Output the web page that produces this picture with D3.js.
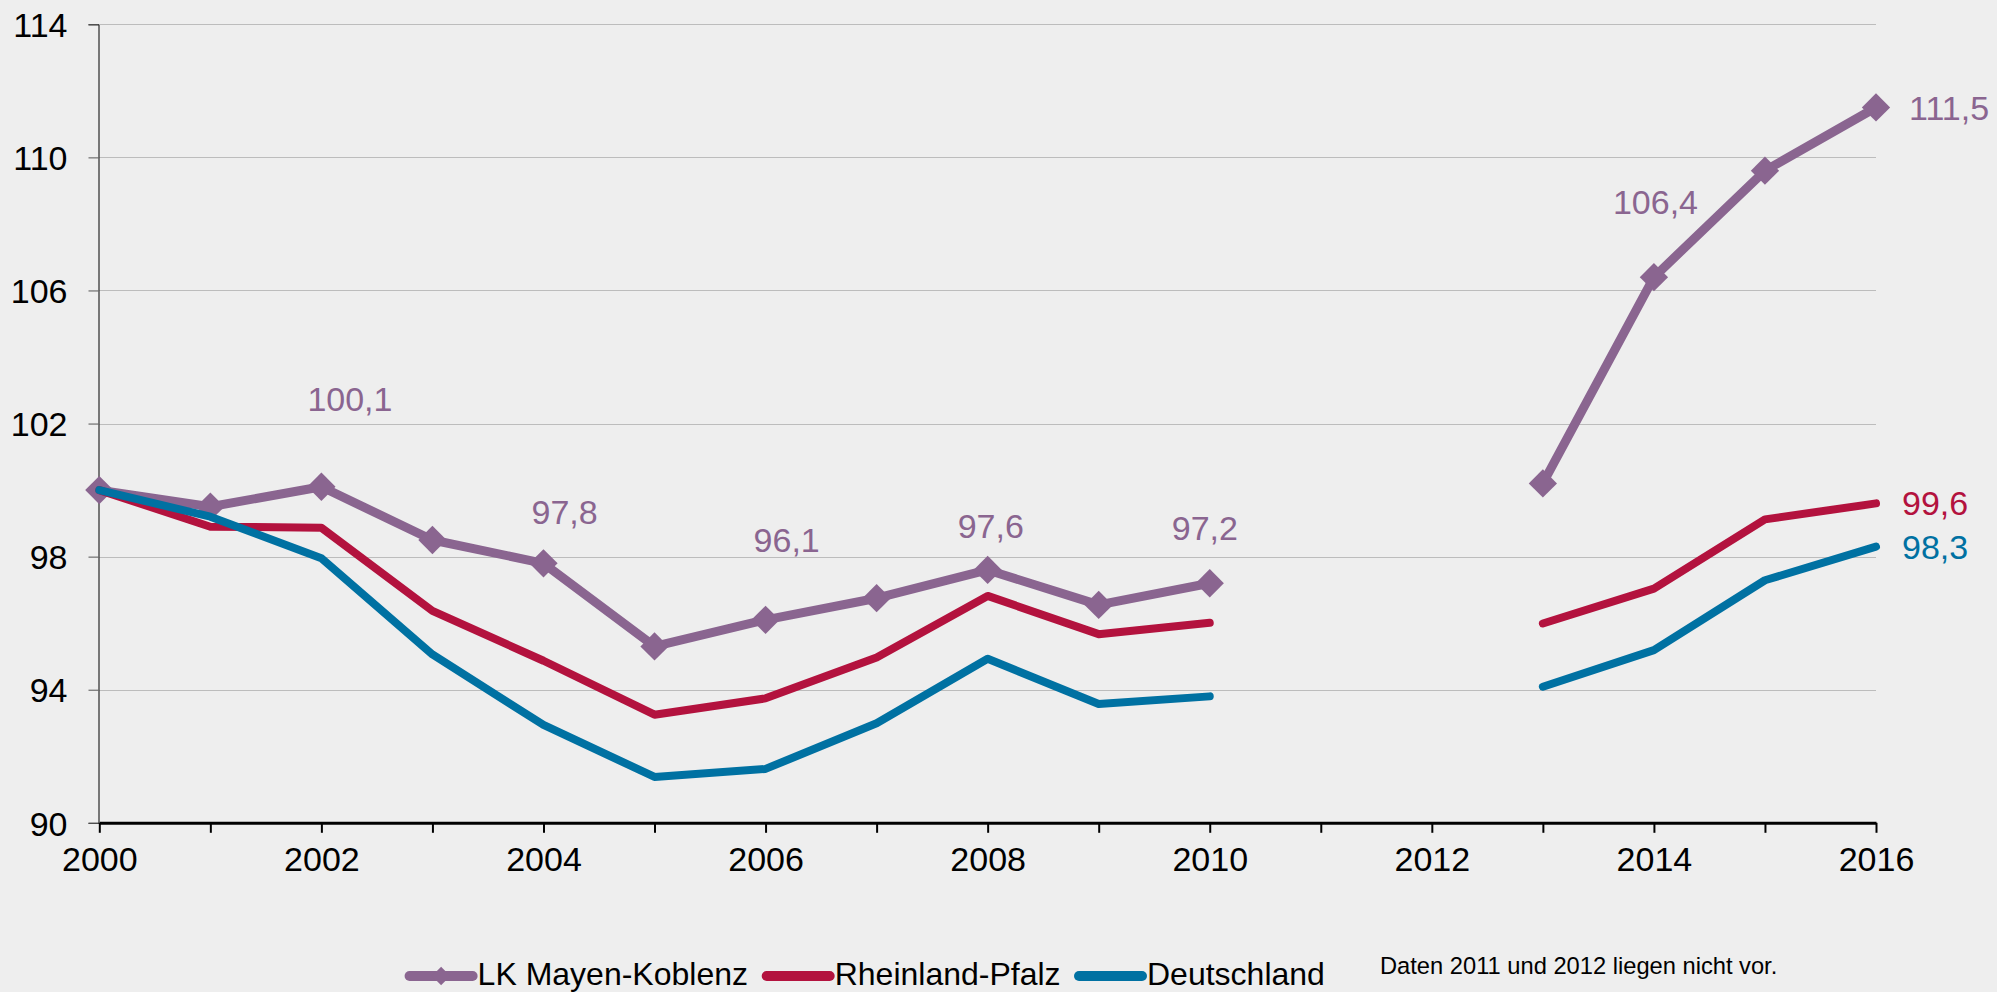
<!DOCTYPE html>
<html>
<head>
<meta charset="utf-8">
<script src="https://cdn.jsdelivr.net/npm/d3@7"></script>
<style>
  html, body { margin: 0; padding: 0; background: #eeeeee; }
  svg { display: block; font-family: "Liberation Sans", Arial, sans-serif; }
</style>
</head>
<body>
<svg id="chart" width="1997" height="992"></svg>
<script>
// ---- data ----
const years = [2000, 2001, 2002, 2003, 2004, 2005, 2006, 2007, 2008, 2009, 2010, 2011, 2012, 2013, 2014, 2015, 2016];
const lkMayenKoblenz = [100, 99.5, 100.1, 98.5, 97.8, 95.3, 96.1, 96.75, 97.6, 96.55, 97.2, null, null, 100.2, 106.4, 109.6, 111.5];
const rheinlandPfalz = [100, 98.9, 98.87, 96.37, 94.87, 93.25, 93.74, 94.97, 96.82, 95.67, 96.01, null, null, 95.99, 97.04, 99.12, 99.6];
const deutschland    = [100, 99.2, 97.95, 95.06, 92.94, 91.38, 91.62, 92.99, 94.93, 93.57, 93.8, null, null, 94.09, 95.19, 97.29, 98.3];
const yTicks = [90, 94, 98, 102, 106, 110, 114];
const xLabelYears = [2000, 2002, 2004, 2006, 2008, 2010, 2012, 2014, 2016];
const seriesNames = ["LK Mayen-Koblenz", "Rheinland-Pfalz", "Deutschland"];
const note = "Daten 2011 und 2012 liegen nicht vor.";
// which points carry a value label (series index, year)
const labelPoints = [
  [0, 2002], [0, 2004], [0, 2006], [0, 2008], [0, 2010], [0, 2014], [0, 2016],
  [1, 2016], [2, 2016]
];

// ---- styles / layout ----
const colors = ["#8a6590", "#b3123e", "#0071a2"];
const labelOffsets = [
  [-14, -76], [-12, -39], [-12, -68], [-30, -32], [-38, -43], [-41, -63], [33, 13],
  [26, 12], [26, 12]
];
const series = [lkMayenKoblenz, rheinlandPfalz, deutschland];

const svg = d3.select("#chart");
const x = d3.scaleLinear().domain([2000, 2016]).range([99.3, 1876]);
const y = d3.scaleLinear().domain([90, 114]).range([822.8, 24.3]);

svg.append("rect").attr("width", 1997).attr("height", 992).attr("fill", "#eeeeee");

// gridlines
svg.append("g").selectAll("line").data(yTicks.filter(t => t !== 90)).join("line")
  .attr("x1", x(2000)).attr("x2", x(2016))
  .attr("y1", d => Math.round(y(d)) + 0.5).attr("y2", d => Math.round(y(d)) + 0.5)
  .attr("stroke", "#bcbcbc").attr("stroke-width", 1);

// y axis
const yAxis = d3.axisLeft(y).tickValues(yTicks).tickSize(10).tickPadding(21).tickFormat(d3.format("d"));
const gy = svg.append("g").attr("transform", `translate(${Math.round(x(2000)) - 0.5},0)`).call(yAxis);
gy.select(".domain").attr("stroke", "#000").attr("stroke-width", 1);
gy.selectAll(".tick line").attr("stroke", "#555");
gy.selectAll(".tick text").attr("font-size", 34).attr("fill", "#000")
  .attr("font-family", "Liberation Sans, Arial, sans-serif").attr("dy", "0.36em");

// x axis
const xAxis = d3.axisBottom(x).tickValues(years).tickSize(10).tickSizeOuter(0).tickPadding(14)
  .tickFormat(d => xLabelYears.includes(d) ? String(d) : "");
const gx = svg.append("g").attr("transform", `translate(0,${y(90)})`).call(xAxis);
gx.select(".domain").attr("stroke", "#000").attr("stroke-width", 3);
gx.selectAll(".tick line").attr("stroke", "#000").attr("stroke-width", 2);
gx.selectAll(".tick text").attr("font-size", 34).attr("fill", "#000")
  .attr("font-family", "Liberation Sans, Arial, sans-serif");

// lines (LK first, Deutschland on top)
const line = d3.line()
  .defined(d => d.v !== null)
  .x(d => x(d.year)).y(d => y(d.v));

series.forEach((vals, i) => {
  const pts = years.map((yr, k) => ({ year: yr, v: vals[k] }));
  svg.append("path").datum(pts)
    .attr("d", line)
    .attr("fill", "none")
    .attr("stroke", colors[i])
    .attr("stroke-width", i === 0 ? 9 : 8)
    .attr("stroke-linejoin", "round")
    .attr("stroke-linecap", "round");
  if (i === 0) {
    svg.append("g").selectAll("rect").data(pts.filter(d => d.v !== null)).join("rect")
      .attr("x", -10).attr("y", -10).attr("width", 20).attr("height", 20)
      .attr("fill", colors[0])
      .attr("transform", d => `translate(${x(d.year)},${y(d.v)}) rotate(45)`);
  }
});

// value labels
const fmt = v => d3.format(".1f")(v).replace(".", ",");
svg.append("g").selectAll("text").data(labelPoints).join("text")
  .attr("x", (d, i) => x(d[1]) + labelOffsets[i][0])
  .attr("y", (d, i) => y(series[d[0]][years.indexOf(d[1])]) + labelOffsets[i][1])
  .attr("fill", d => colors[d[0]])
  .attr("font-size", 34)
  .text(d => fmt(series[d[0]][years.indexOf(d[1])]));

// legend
const legendX = [409.6, 766.7, 1079];
const lg = svg.append("g");
seriesNames.forEach((name, i) => {
  const g = lg.append("g").attr("transform", `translate(${legendX[i]},976)`);
  g.append("line").attr("x1", 0).attr("x2", 63).attr("y1", 0).attr("y2", 0)
    .attr("stroke", colors[i]).attr("stroke-width", 10).attr("stroke-linecap", "round");
  if (i === 0) {
    g.append("rect").attr("x", -6.5).attr("y", -6.5).attr("width", 13).attr("height", 13)
      .attr("fill", colors[0]).attr("transform", "translate(31.5,0) rotate(45)");
  }
  g.append("text").attr("x", 68).attr("y", 9).attr("font-size", 32).attr("fill", "#000").text(name);
});
svg.append("text").attr("x", 1380).attr("y", 974).attr("font-size", 23.7).attr("fill", "#000").text(note);
</script>
</body>
</html>
